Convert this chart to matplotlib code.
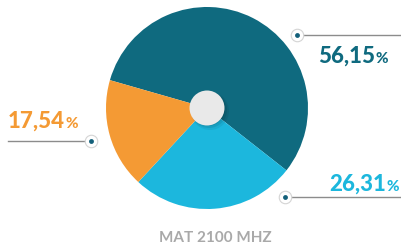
import matplotlib
matplotlib.use("Agg")
import matplotlib.pyplot as plt
from matplotlib.patches import Circle

plt.rcParams['font.family'] = ['Lato', 'DejaVu Sans']

# data
labels = ["56,15", "26,31", "17,54"]
values = [56.15, 26.31, 17.54]
colors = ["#0f6a7f", "#1cb7dd", "#f49a34"]
title = "MAT 2100 MHZ"

W, H = 401, 247
fig = plt.figure(figsize=(W / 100, H / 100), dpi=100)
ax = fig.add_axes([0, 0, 1, 1])
ax.set_xlim(0, W)
ax.set_ylim(0, H)
ax.set_aspect('equal')
ax.axis('off')

cx, cy, r = 207, H - 108, 101
ax.pie(values, colors=colors, startangle=164, counterclock=False,
       center=(cx, cy), radius=r, wedgeprops=dict(linewidth=0))
ax.set_xlim(0, W)
ax.set_ylim(0, H)

# centre disc with a soft shadow
for i, a in enumerate([0.06, 0.08, 0.10]):
    ax.add_patch(Circle((cx + 3 - i, cy - 3 + i), 19 - i, color='black', alpha=a, lw=0, zorder=3))
ax.add_patch(Circle((cx, cy), 17.5, color='#e9e9e9', lw=0, zorder=4))

# callouts: (line x0, x1, y, dot x, text x, text baseline y)
callouts = [
    (297, 401, H - 35, 297, 318, H - 63),
    (285, 401, H - 197, 285, 329, H - 191),
    (8, 91, H - 141, 91, 8, H - 128),
]
nums = []
for (x0, x1, ly, dx, tx, ty), lab, c in zip(callouts, labels, colors):
    ax.plot([x0, x1], [ly, ly], color='#8c8c8c', lw=1, zorder=2)
    ax.plot(dx, ly, 'o', ms=9, mfc='white', mec='#d4d4d4', mew=0.8, zorder=5)
    ax.plot(dx, ly, 'o', ms=3.5, mfc='#14607a', mec='none', zorder=6)
    t = ax.text(tx, ty, lab, color=c, fontsize=16, fontweight='black', ha='left', va='baseline')
    nums.append((t, ty, c))

fig.canvas.draw()
renderer = fig.canvas.get_renderer()
for t, ty, c in nums:
    bb = t.get_window_extent(renderer).transformed(ax.transData.inverted())
    ax.text(bb.x1 + 0.5, ty, '%', color=c, fontsize=11, fontweight='black',
            ha='left', va='baseline')

ax.text(215, H - 238, title, color='#a9a9a9', fontsize=11, fontweight='bold',
        ha='center', va='center')

fig.savefig("out.png", dpi=100)
